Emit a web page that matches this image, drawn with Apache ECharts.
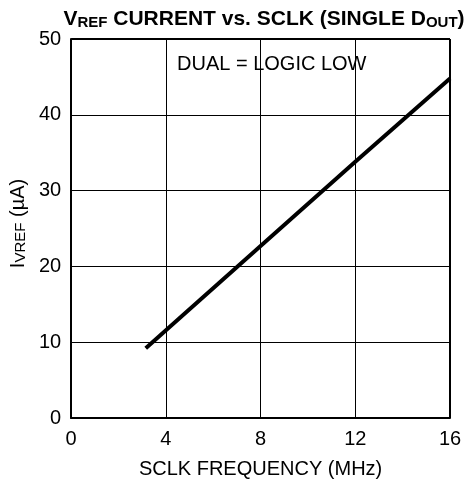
<!DOCTYPE html>
<html><head><meta charset="utf-8">
<script src="https://cdn.jsdelivr.net/npm/echarts@6/dist/echarts.min.js"></script>
<style>html,body{margin:0;padding:0;background:#fff}#c{width:467px;height:485px}</style>
</head><body><div id="c"></div>
<script>
const sclkMHz = [3.15, 8, 12, 16];
const irefUA = [9.2, 22.7, 33.8, 44.8];
const xTicks = [0, 4, 8, 12, 16];
const yTicks = [0, 10, 20, 30, 40, 50];

const chart = echarts.init(document.getElementById('c'), null, {renderer: 'canvas'});
const F = 'Liberation Sans, Arial, sans-serif';
chart.setOption({
  animation: false,
  title: {
    text: '{m|V}{s|REF}{m| CURRENT vs. SCLK (SINGLE D}{s|OUT}{m|)}',
    left: 259, top: 2, textAlign: 'center',
    textStyle: {rich: {
      m: {fontFamily: F, fontSize: 21, fontWeight: 'bold', color: '#000', verticalAlign: 'bottom'},
      s: {fontFamily: F, fontSize: 15, fontWeight: 'bold', color: '#000', verticalAlign: 'bottom', padding: [8, 0, 0, 0]}
    }}
  },
  grid: {left: 71, right: 17, top: 39, bottom: 67},
  xAxis: {
    type: 'value', min: 0, max: 16, interval: 4,
    name: 'SCLK FREQUENCY (MHz)', nameLocation: 'middle', nameGap: 41,
    nameTextStyle: {fontFamily: F, fontSize: 20, color: '#000'},
    axisLine: {show: true, onZero: false, lineStyle: {color: '#000', width: 2}},
    axisTick: {show: false},
    axisLabel: {fontFamily: F, fontSize: 20, color: '#000', margin: 11, formatter: v => xTicks.includes(v) ? String(v) : ''},
    splitLine: {show: true, lineStyle: {color: '#000', width: 1}}
  },
  yAxis: {
    type: 'value', min: 0, max: 50, interval: 10,
    name: '{m|I}{s|VREF}{m| (µA)}', nameLocation: 'middle', nameGap: 42, nameRotate: 90,
    nameTextStyle: {padding: [0, 0, 0, 10], rich: {
      m: {fontFamily: F, fontSize: 20, color: '#000', verticalAlign: 'bottom'},
      s: {fontFamily: F, fontSize: 15, color: '#000', verticalAlign: 'bottom', padding: [8, 0, 0, 0]}
    }},
    axisLine: {show: true, onZero: false, lineStyle: {color: '#000', width: 2}},
    axisTick: {show: false},
    axisLabel: {fontFamily: F, fontSize: 20, color: '#000', margin: 10, formatter: v => yTicks.includes(v) ? String(v) : ''},
    splitLine: {show: true, lineStyle: {color: '#000', width: 1}}
  },
  series: [{
    type: 'line', data: sclkMHz.map((x, i) => [x, irefUA[i]]),
    showSymbol: false, lineStyle: {color: '#000', width: 4}, z: 5,
    markLine: {silent: true, symbol: 'none', label: {show: false}, lineStyle: {color: '#000', width: 2, type: 'solid'},
      data: [[{coord: [0, 50]}, {coord: [16, 50]}], [{coord: [16, 0]}, {coord: [16, 50]}]]}
  }],
  graphic: [{
    type: 'text', x: 177, y: 54,
    style: {text: 'DUAL = LOGIC LOW', font: '20px ' + F, fill: '#000'}
  }]
});
</script></body></html>
